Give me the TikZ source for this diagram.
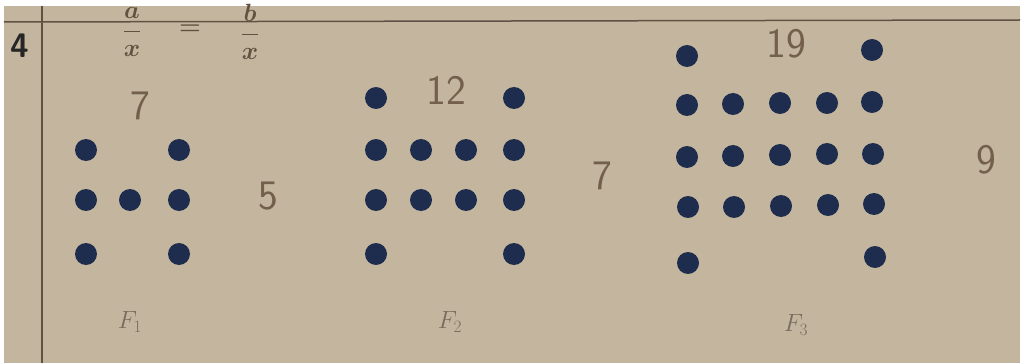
\documentclass[tikz,border=0pt]{standalone}
\usepackage{tikz}
\usetikzlibrary{positioning}

\definecolor{paper}{RGB}{196,182,158}
\definecolor{ink}{RGB}{30,45,78}
\definecolor{pencil}{RGB}{115,95,75}
\definecolor{rule}{RGB}{95,82,68}

\begin{document}
\begin{tikzpicture}[
        x=1pt, y=-1pt,
        % 点のスタイル
        dot/.style={circle, fill=ink, minimum size=22pt, inner sep=0pt},
        % 手書き数字のスタイル
        hand/.style={font=\fontsize{42}{42}\selectfont\sffamily, text=pencil},
        % 上の式のスタイル
        frac/.style={font=\fontsize{26}{26}\selectfont\boldmath, text=pencil!85!black, inner sep=0pt},
        % 図の名前のスタイル
        figlabel/.style={font=\fontsize{24}{24}\selectfont, text=rule!85}
    ]

    % 背景と罫線
    \fill[white] (0,0) rectangle (1026,363);
    \fill[paper] (4,6) rectangle (1020,363);
    \draw[rule, line width=1.5pt] (4,22) -- (1020,20);
    \draw[rule, line width=1.2pt] (42,6) -- (42,363);
    \node[font=\fontsize{34}{34}\selectfont\sffamily\bfseries, text=black!85] (num) at (20,46) {4};

    % 上の式
    \node[frac] (fa) at (132,32) {$\displaystyle\frac{a}{x}$};
    \node[frac] (eq) at (190,30) {$=$};
    \node[frac] (fb) at (250,32) {$\displaystyle\frac{b}{x}$};

    % F1
    \foreach \x/\y in {86/150, 179/150, 86/200, 130/200, 179/200, 86/254, 179/254}
        \node[dot] at (\x,\y) {};
    \node[hand] (n7a) at (140,106) {7};
    \node[hand] (n5) at (268,196) {5};
    \node[figlabel] (f1) at (130,322) {$F_1$};

    % F2
    \foreach \x/\y in {376/98, 514/98, 376/150, 421/150, 466/150, 514/150,
                       376/200, 421/200, 466/200, 514/200, 376/254, 514/254}
        \node[dot] at (\x,\y) {};
    \node[hand] (n12) at (446,90) {12};
    \node[hand] (n7b) at (602,176) {7};
    \node[figlabel] (f2) at (450,322) {$F_2$};

    % F3
    \foreach \x/\y in {687/56, 872/50,
                       687/105, 733/104, 780/103, 827/103, 872/102,
                       687/157, 733/156, 780/155, 827/154, 873/154,
                       688/207, 734/207, 781/206, 828/205, 874/204,
                       688/263, 875/257}
        \node[dot] at (\x,\y) {};
    \node[hand] (n19) at (786,44) {19};
    \node[hand] (n9) at (986,160) {9};
    \node[figlabel] (f3) at (796,325) {$F_3$};

\end{tikzpicture}
\end{document}
